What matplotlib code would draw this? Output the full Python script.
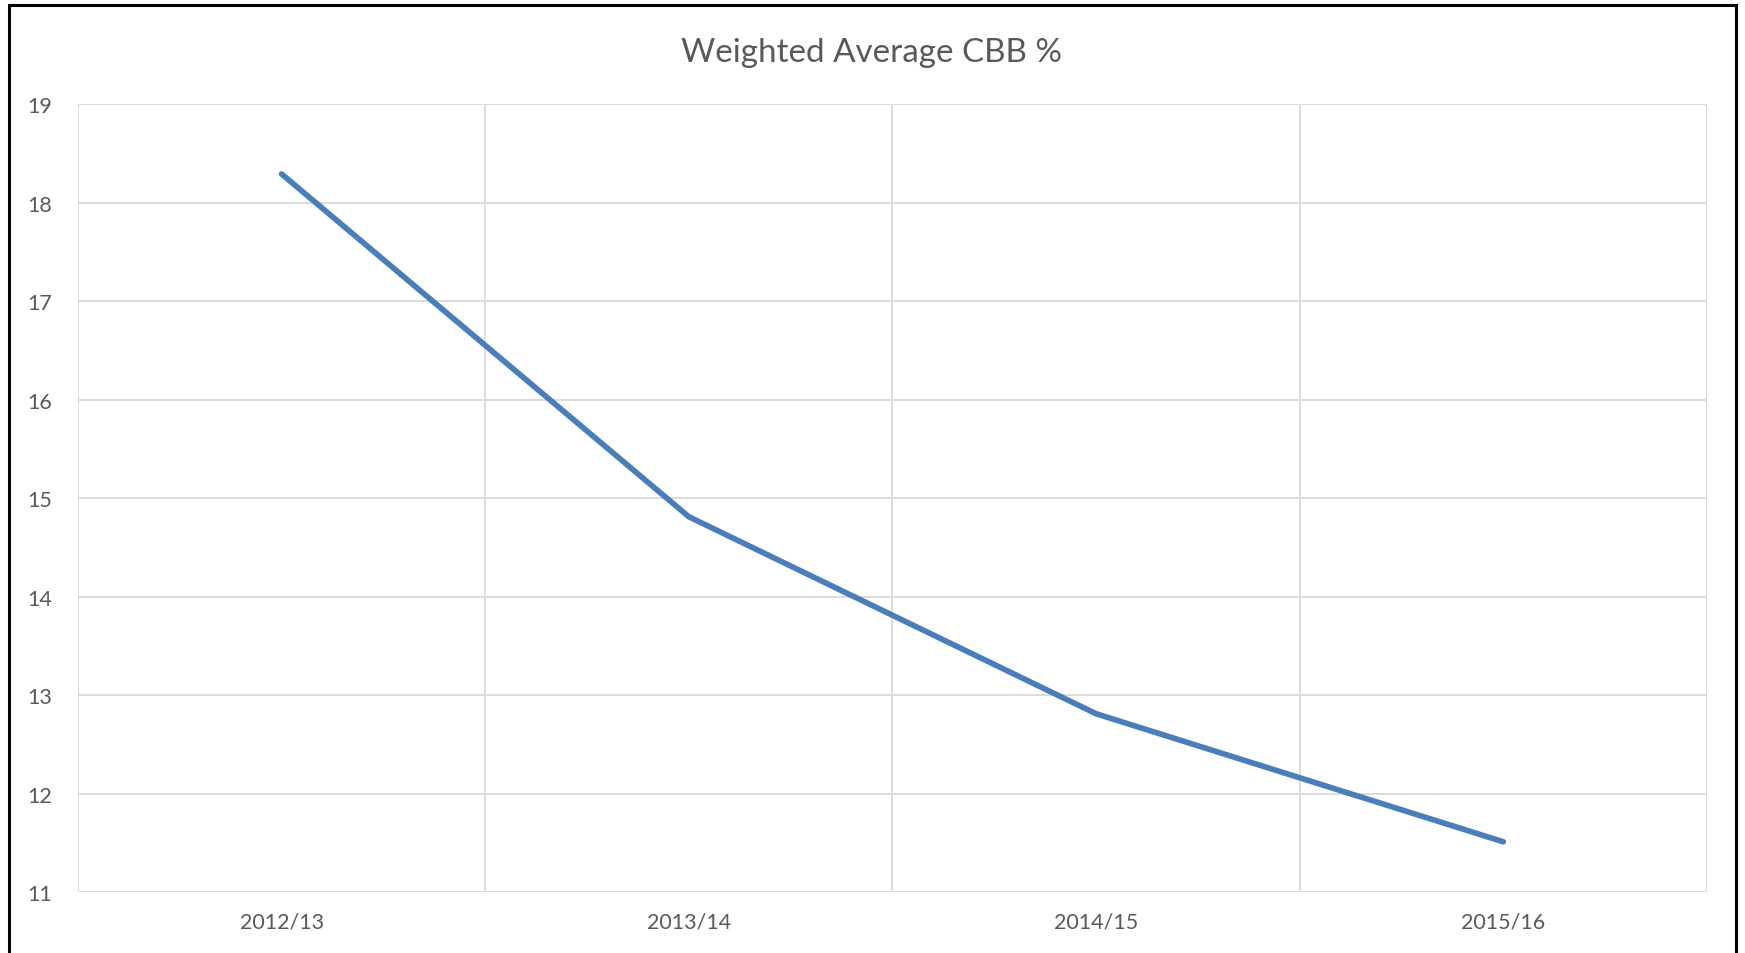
import matplotlib.pyplot as plt
from matplotlib.patches import Rectangle

# values
seasons = ['2012/13', '2013/14', '2014/15', '2015/16']
cbb_pct = [18.29, 14.81, 12.81, 11.51]
y_ticks = [11, 12, 13, 14, 15, 16, 17, 18, 19]

plt.rcParams['font.family'] = ['Lato', 'DejaVu Sans']
text_grey = '#595959'
grid_grey = '#D9D9D9'

fig = plt.figure(figsize=(17.45, 9.54), dpi=100)
ax = fig.add_axes([0.0447, 0.0639, 0.9335, 0.826])

x = list(range(len(seasons)))
ax.plot(x, cbb_pct, color='#4A7EBB', linewidth=4.1, solid_capstyle='round',
        solid_joinstyle='round', zorder=3)

ax.set_xlim(-0.5, len(seasons) - 0.5)
ax.set_ylim(y_ticks[0], y_ticks[-1])
ax.set_yticks(y_ticks)
ax.set_xticks(x)
ax.set_xticklabels(seasons)

# category gridlines sit between the categories
for b in range(len(seasons) + 1):
    ax.axvline(b - 0.5, color=grid_grey, linewidth=1.3, zorder=1)
for t in y_ticks:
    ax.axhline(t, color=grid_grey, linewidth=1.3, zorder=1)

for s in ax.spines.values():
    s.set_visible(False)
ax.tick_params(length=0, labelsize=15.5, colors=text_grey)
ax.tick_params(axis='x', pad=14)
ax.tick_params(axis='y', pad=36.5)
for lbl in ax.get_yticklabels():
    lbl.set_horizontalalignment('left')

fig.text(0.4997, 0.944, 'Weighted Average CBB %', ha='center', va='center',
         fontsize=23.9, color=text_grey)

# outer chart frame
fig.patches.append(Rectangle((0.0052, -0.05), 0.9897, 0.05 + 0.9937,
                             transform=fig.transFigure, fill=False,
                             edgecolor='black', linewidth=2.2))

fig.savefig('out.png', dpi=100)
